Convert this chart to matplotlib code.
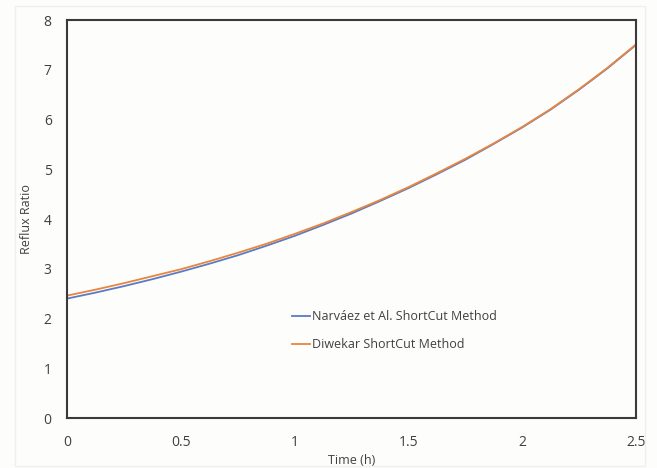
import matplotlib
matplotlib.use("Agg")
import matplotlib.pyplot as plt
from matplotlib.patches import Rectangle

# time (h) and reflux ratio
time_h = [0.0, 0.125, 0.25, 0.375, 0.5, 0.625, 0.75, 0.875, 1.0, 1.125, 1.25,
          1.375, 1.5, 1.625, 1.75, 1.875, 2.0, 2.125, 2.25, 2.375, 2.5]
narvaez = [2.40, 2.52, 2.65, 2.79, 2.94, 3.10, 3.27, 3.46, 3.66, 3.88, 4.11,
           4.36, 4.62, 4.90, 5.19, 5.51, 5.84, 6.20, 6.60, 7.03, 7.50]
diwekar = [2.46, 2.58, 2.71, 2.85, 2.99, 3.15, 3.32, 3.50, 3.70, 3.91, 4.14,
           4.38, 4.64, 4.92, 5.21, 5.52, 5.85, 6.21, 6.61, 7.04, 7.51]

x_ticks = [0, 0.5, 1, 1.5, 2, 2.5]
x_tick_labels = ["0", "0.5", "1", "1.5", "2", "2.5"]
y_ticks = [0, 1, 2, 3, 4, 5, 6, 7, 8]

plt.rcParams['font.family'] = ['Open Sans', 'DejaVu Sans']

fig = plt.figure(figsize=(6.57, 4.68), dpi=100)
fig.patch.set_facecolor('#fdfdfc')
ax = fig.add_axes([67 / 657, 50 / 468, 569 / 657, 398 / 468])
ax.set_facecolor('#fdfdfc')

# faint outer frame around the chart area
fig.patches.append(Rectangle((15 / 657, 2 / 468), 630 / 657, 460 / 468,
                             transform=fig.transFigure, fill=False,
                             edgecolor='#efefef', linewidth=1))

ax.plot(time_h, narvaez, color='#5b7bc4', lw=1.3, label='Narváez et Al. ShortCut Method')
ax.plot(time_h, diwekar, color='#e8853f', lw=1.3, label='Diwekar ShortCut Method')

ax.set_xlim(0, 2.5)
ax.set_ylim(0, 8)
ax.set_xticks(x_ticks)
ax.set_xticklabels(x_tick_labels)
ax.set_yticks(y_ticks)
ax.tick_params(length=0, labelsize=10, labelcolor='#404040')
ax.tick_params(axis='x', pad=12)
ax.tick_params(axis='y', pad=11)

for s in ax.spines.values():
    s.set_color('#3a3a3a')
    s.set_linewidth(1.5)

ax.set_xlabel('Time (h)', fontsize=9, color='#404040', labelpad=3)
ax.set_ylabel('Reflux Ratio', fontsize=9, color='#404040', labelpad=8)

ax.legend(loc='center left', bbox_to_anchor=(0.385, 0.22), frameon=False,
          fontsize=9, labelcolor='#404040', handlelength=1.4,
          handletextpad=0.2, labelspacing=1.2, borderpad=0)

fig.savefig('out.png', dpi=100, facecolor=fig.get_facecolor())
